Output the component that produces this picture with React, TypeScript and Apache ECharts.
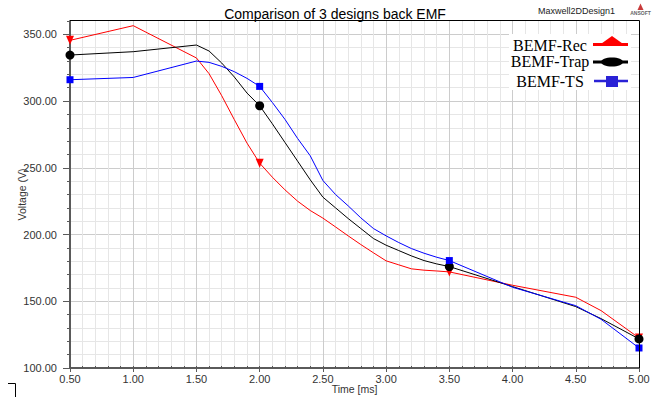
import React, { useEffect, useRef } from "react";
import * as echarts from "echarts";

// Sample times (ms) shared by the three back-EMF traces
const times = [
  0.5, 1.0, 1.5, 1.6, 1.7, 1.8, 1.9, 2.0, 2.1, 2.2, 2.3, 2.4, 2.5, 2.6, 2.7,
  2.8, 2.9, 3.0, 3.1, 3.2, 3.3, 3.4, 3.5, 4.0, 4.5, 4.7, 5.0,
];

// Back EMF in volts for each design
const recValues = [
  345.5, 356.5, 332.3, 320.5, 304, 286, 268.5, 253.5, 243, 233.5, 225, 218,
  212.3, 205.7, 199, 192.5, 186.3, 180.3, 177.3, 174.3, 173.3, 172.7, 172, 162,
  153, 143, 122.5,
];
const trapValues = [
  334.5, 337, 342, 337.5, 328.5, 318, 306, 296.5, 283, 269, 255, 241, 228, 220,
  212, 204.5, 197, 192, 188, 184, 180.5, 178, 176, 161, 146, 137, 121.8,
];
const tsValues = [
  316, 317.7, 330, 329, 326, 322, 317, 311, 299, 286.3, 272, 259, 240.5, 230,
  221.5, 212.5, 204.5, 199, 194, 189.5, 186, 183, 180.5, 160.5, 146.7, 136.5,
  115,
];

// Times at which each trace carries a marker
const markerTimes = [0.5, 2.0, 3.5, 5.0];

const seriesNames = ["BEMF-Rec", "BEMF-Trap", "BEMF-TS"];
const chartTitle = "Comparison of 3 designs back EMF";
const designName = "Maxwell2DDesign1";

const SANS = '"Liberation Sans", Arial, sans-serif';
const SERIF = '"Liberation Serif", "Times New Roman", serif';

function buildData(values: number[]) {
  return times.map((t, i) => {
    const marked = markerTimes.some((m) => Math.abs(m - t) < 1e-9);
    return marked
      ? { value: [t, values[i]] }
      : { value: [t, values[i]], symbol: "none" };
  });
}

export default function App() {
  const ref = useRef<HTMLDivElement>(null);

  useEffect(() => {
    if (!ref.current) return;
    const chart = echarts.init(ref.current, undefined, { renderer: "svg" });

    const legendRows = [
      { name: seriesNames[0], y: 45 },
      { name: seriesNames[1], y: 61.5 },
      { name: seriesNames[2], y: 81 },
    ];

    chart.setOption({
      animation: false,
      backgroundColor: "#ffffff",
      title: {
        text: chartTitle,
        left: 330,
        top: 2,
        textAlign: "center",
        textStyle: {
          fontSize: 14,
          fontWeight: "normal",
          color: "#000",
          fontFamily: SANS,
        },
      },
      grid: {
        left: 70,
        top: 21,
        width: 569,
        height: 347,
        containLabel: false,
        outerBoundsMode: "none",
      },
      xAxis: [
        {
          // fine 0.1 ms grid
          type: "value",
          position: "bottom",
          min: 0.5,
          max: 5,
          interval: 0.1,
          axisLine: { show: false },
          axisLabel: { show: false },
          axisTick: {
            show: true,
            inside: true,
            length: 2,
            lineStyle: { color: "#555" },
          },
          splitLine: {
            show: true,
            showMinLine: false,
            showMaxLine: false,
            lineStyle: { color: "#e6e6e6", width: 1 },
          },
        },
        {
          type: "value",
          position: "bottom",
          min: 0.5,
          max: 5,
          interval: 0.5,
          axisLine: {
            show: true,
            onZero: false,
            lineStyle: { color: "#5a5a5a", width: 2 },
          },
          axisTick: { show: true, length: 4, lineStyle: { color: "#5a5a5a" } },
          axisLabel: {
            formatter: (v: number) => v.toFixed(2),
            fontSize: 11,
            color: "#333",
            fontFamily: SANS,
            margin: 5,
          },
          splitLine: {
            show: true,
            showMinLine: false,
            showMaxLine: false,
            lineStyle: { color: "#cccccc", width: 1 },
          },
          name: "Time [ms]",
          nameLocation: "middle",
          nameGap: 15,
          nameMoveOverlap: false,
          nameTextStyle: { fontSize: 10.5, color: "#333", fontFamily: SANS },
        },
      ],
      yAxis: [
        {
          // fine 10 V grid
          type: "value",
          position: "left",
          min: 100,
          max: 360,
          interval: 10,
          axisLine: { show: false },
          axisLabel: { show: false },
          axisTick: { show: true, length: 3, lineStyle: { color: "#5a5a5a" } },
          splitLine: {
            show: true,
            showMinLine: false,
            showMaxLine: false,
            lineStyle: { color: "#e6e6e6", width: 1 },
          },
        },
        {
          type: "value",
          position: "left",
          min: 100,
          max: 360,
          interval: 50,
          axisLine: {
            show: true,
            onZero: false,
            lineStyle: { color: "#5a5a5a", width: 2 },
          },
          axisTick: { show: true, length: 7, lineStyle: { color: "#5a5a5a" } },
          axisLabel: {
            formatter: (v: number) =>
              Math.abs(v % 50) < 1e-9 ? v.toFixed(2) : "",
            fontSize: 11,
            color: "#333",
            fontFamily: SANS,
            margin: 13,
            showMaxLabel: false,
          },
          splitLine: {
            show: true,
            showMinLine: false,
            showMaxLine: false,
            lineStyle: { color: "#cccccc", width: 1 },
          },
          name: "Voltage (V)",
          nameLocation: "middle",
          nameGap: 43,
          nameRotate: 90,
          nameMoveOverlap: false,
          nameTextStyle: { fontSize: 10.5, color: "#333", fontFamily: SANS },
        },
      ],
      series: [
        {
          name: seriesNames[0],
          type: "line",
          xAxisIndex: 1,
          yAxisIndex: 1,
          data: buildData(recValues),
          showAllSymbol: true,
          symbol: "triangle",
          symbolSize: [8, 9],
          symbolRotate: 180,
          lineStyle: { color: "#ff0000", width: 1 },
          itemStyle: { color: "#ff0000" },
          clip: true,
          z: 3,
        },
        {
          name: seriesNames[1],
          type: "line",
          xAxisIndex: 1,
          yAxisIndex: 1,
          data: buildData(trapValues),
          showAllSymbol: true,
          symbol: "circle",
          symbolSize: 9,
          lineStyle: { color: "#000000", width: 1 },
          itemStyle: { color: "#000000" },
          clip: true,
          z: 4,
        },
        {
          name: seriesNames[2],
          type: "line",
          xAxisIndex: 1,
          yAxisIndex: 1,
          data: buildData(tsValues),
          showAllSymbol: true,
          symbol: "rect",
          symbolSize: 7,
          lineStyle: { color: "#0000ff", width: 1 },
          itemStyle: { color: "#0000ff" },
          clip: true,
          z: 5,
        },
      ],
      graphic: [
        // top and right frame of the plot area
        {
          type: "polyline",
          z: 50,
          shape: {
            points: [
              [70, 20.5],
              [639.5, 20.5],
              [639.5, 368],
            ],
          },
          style: { stroke: "#000", lineWidth: 1, fill: "none" },
        },
        // legend box
        {
          type: "rect",
          z: 60,
          shape: { x: 509, y: 34, width: 122, height: 56 },
          style: { fill: "#ffffff" },
        },
        ...legendRows.map((r) => ({
          type: "text",
          z: 61,
          x: 550,
          y: r.y,
          style: {
            text: r.name,
            fontSize: 16,
            fontFamily: SERIF,
            fill: "#000",
            align: "center",
            verticalAlign: "middle",
          },
        })),
        {
          type: "line",
          z: 61,
          shape: { x1: 593, y1: 44.5, x2: 628, y2: 44.5 },
          style: { stroke: "#ff0000", lineWidth: 3 },
        },
        {
          type: "polygon",
          z: 62,
          shape: {
            points: [
              [598, 46],
              [612, 36],
              [626, 46],
            ],
          },
          style: { fill: "#ff0000" },
        },
        {
          type: "line",
          z: 61,
          shape: { x1: 593, y1: 62, x2: 628, y2: 62 },
          style: { stroke: "#000000", lineWidth: 3 },
        },
        {
          type: "ellipse",
          z: 62,
          shape: { cx: 612, cy: 62, rx: 11, ry: 4.5 },
          style: { fill: "#000000" },
        },
        {
          type: "line",
          z: 61,
          shape: { x1: 594, y1: 81, x2: 628, y2: 81 },
          style: { stroke: "#2a22d6", lineWidth: 2.5 },
        },
        {
          type: "rect",
          z: 62,
          shape: { x: 606, y: 76, width: 12, height: 11 },
          style: { fill: "#2a22d6" },
        },
        // design name and vendor mark
        {
          type: "text",
          z: 61,
          x: 538,
          y: 11,
          style: {
            text: designName,
            fontSize: 9,
            fontFamily: SANS,
            fill: "#222",
            align: "left",
            verticalAlign: "middle",
          },
        },
        {
          type: "polygon",
          z: 61,
          shape: {
            points: [
              [637.5, 10],
              [640.5, 3.5],
              [643.5, 10],
            ],
          },
          style: { fill: "#c83a3a" },
        },
        {
          type: "text",
          z: 61,
          x: 640.5,
          y: 12.5,
          style: {
            text: "ANSOFT",
            fontSize: 5,
            fontWeight: "bold",
            fontFamily: SANS,
            fill: "#666",
            align: "center",
            verticalAlign: "middle",
          },
        },
        // corner mark below the axes
        {
          type: "polyline",
          z: 61,
          shape: {
            points: [
              [8, 383.5],
              [15.5, 383.5],
              [15.5, 397],
            ],
          },
          style: { stroke: "#000", lineWidth: 1, fill: "none" },
        },
      ],
    });

    return () => chart.dispose();
  }, []);

  return (
    <div
      ref={ref}
      style={{
        position: "absolute",
        left: 0,
        top: 0,
        width: 657,
        height: 397,
        background: "#fff",
      }}
    />
  );
}
